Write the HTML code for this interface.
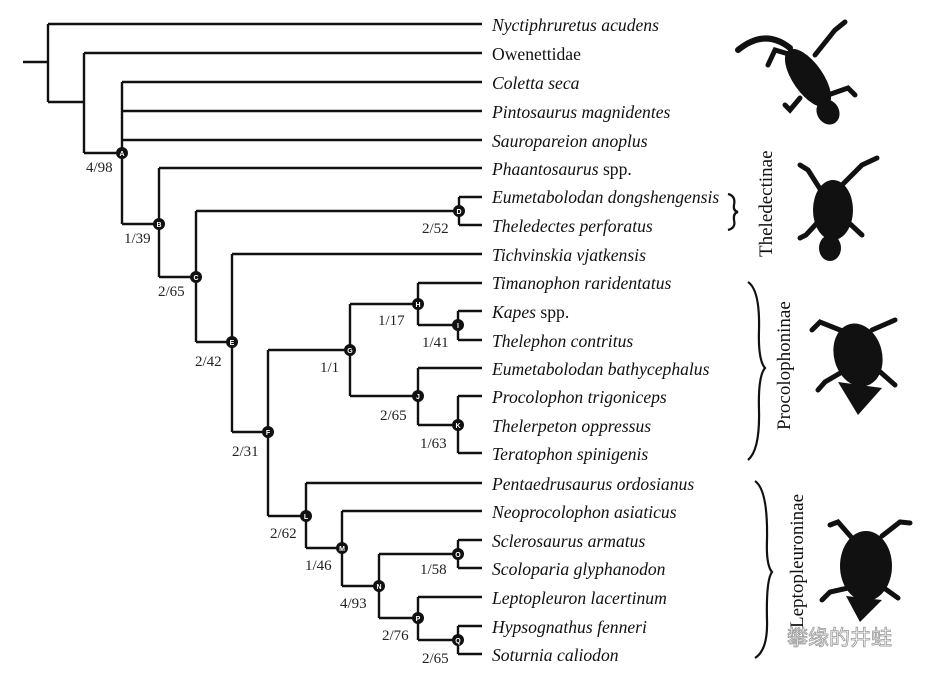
<!DOCTYPE html>
<html><head><meta charset="utf-8"><style>
body{margin:0;background:#fff;width:937px;height:677px;overflow:hidden}
svg{display:block}
.t{font-family:"Liberation Serif",serif;font-size:17.6px;font-style:italic;fill:#111}
.n{font-family:"Liberation Serif",serif;font-size:15px;fill:#222}
.c{font-family:"Liberation Sans",sans-serif;font-size:7px;font-weight:bold;fill:#fff;text-anchor:middle}
</style></head><body>
<svg width="937" height="677" viewBox="0 0 937 677">
<g stroke="#111" stroke-width="2.4" fill="none">
<path d="M23 62H48M48 24V102M48 24H482M48 102H84M84 53V153M84 53H482M84 153H122"/>
<path d="M122 82V224M122 82H482M122 111H482M122 140H482M122 224H159"/>
<path d="M159 168V277M159 168H482M159 277H196"/>
<path d="M196 211V342M196 211H459M459 197V225M459 197H482M459 225H482M196 342H232"/>
<path d="M232 254V432M232 254H482M232 432H268"/>
<path d="M268 350V516M268 350H350M350 304V396M350 304H418M418 283V325M418 283H482M418 325H458M458 311V340M458 311H482M458 340H482"/>
<path d="M350 396H418M418 368V425M418 368H482M418 425H458M458 396V453M458 396H482M458 453H482"/>
<path d="M268 516H306M306 483V548M306 483H482M306 548H342M342 511V586M342 511H482M342 586H379"/>
<path d="M379 554V618M379 554H458M458 540V568M458 540H482M458 568H482M379 618H418M418 597V640M418 597H482M418 640H458M458 626V654M458 626H482M458 654H482"/>
</g>
<g fill="#111">
<circle cx="122" cy="153" r="6"/><circle cx="159" cy="224" r="6"/><circle cx="196" cy="277" r="6"/><circle cx="459" cy="211" r="6"/>
<circle cx="232" cy="342" r="6"/><circle cx="268" cy="432" r="6"/><circle cx="350" cy="350" r="6"/><circle cx="418" cy="304" r="6"/>
<circle cx="458" cy="325" r="6"/><circle cx="418" cy="396" r="6"/><circle cx="458" cy="425" r="6"/><circle cx="306" cy="516" r="6"/>
<circle cx="342" cy="548" r="6"/><circle cx="379" cy="586" r="6"/><circle cx="458" cy="554" r="6"/><circle cx="418" cy="618" r="6"/><circle cx="458" cy="640" r="6"/>
</g>
<g class="c">
<text x="122" y="156">A</text><text x="159" y="227">B</text><text x="196" y="280">C</text><text x="459" y="214">D</text>
<text x="232" y="345">E</text><text x="268" y="435">F</text><text x="350" y="353">G</text><text x="418" y="307">H</text>
<text x="458" y="328">I</text><text x="418" y="399">J</text><text x="458" y="428">K</text><text x="306" y="519">L</text>
<text x="342" y="551">M</text><text x="379" y="589">N</text><text x="458" y="557">O</text><text x="418" y="621">P</text><text x="458" y="643">Q</text>
</g>
<g class="n">
<text x="86" y="172">4/98</text><text x="124" y="243">1/39</text><text x="158" y="296">2/65</text><text x="422" y="233">2/52</text>
<text x="195" y="366">2/42</text><text x="232" y="456">2/31</text><text x="320" y="372">1/1</text><text x="378" y="325">1/17</text>
<text x="422" y="347">1/41</text><text x="380" y="420">2/65</text><text x="420" y="448">1/63</text><text x="270" y="538">2/62</text>
<text x="305" y="570">1/46</text><text x="340" y="608">4/93</text><text x="420" y="574">1/58</text><text x="382" y="640">2/76</text><text x="422" y="663">2/65</text>
</g>
<g class="t">
<text x="492" y="31">Nyctiphruretus acudens</text>
<text x="492" y="60" font-style="normal">Owenettidae</text>
<text x="492" y="89">Coletta seca</text>
<text x="492" y="118">Pintosaurus magnidentes</text>
<text x="492" y="147">Sauropareion anoplus</text>
<text x="492" y="175">Phaantosaurus <tspan font-style="normal">spp.</tspan></text>
<text x="492" y="203">Eumetabolodan dongshengensis</text>
<text x="492" y="232">Theledectes perforatus</text>
<text x="492" y="261">Tichvinskia vjatkensis</text>
<text x="492" y="289">Timanophon raridentatus</text>
<text x="492" y="318">Kapes <tspan font-style="normal">spp.</tspan></text>
<text x="492" y="347">Thelephon contritus</text>
<text x="492" y="375">Eumetabolodan bathycephalus</text>
<text x="492" y="403">Procolophon trigoniceps</text>
<text x="492" y="432">Thelerpeton oppressus</text>
<text x="492" y="460">Teratophon spinigenis</text>
<text x="492" y="490">Pentaedrusaurus ordosianus</text>
<text x="492" y="518">Neoprocolophon asiaticus</text>
<text x="492" y="547">Sclerosaurus armatus</text>
<text x="492" y="575">Scoloparia glyphanodon</text>
<text x="492" y="604">Leptopleuron lacertinum</text>
<text x="492" y="633">Hypsognathus fenneri</text>
<text x="492" y="661">Soturnia caliodon</text>
</g>
<g fill="none" stroke="#111" stroke-width="2.2">
<path d="M728 194Q736 196 734 205Q733 211 738 212Q733 213 734 220Q736 228 728 230"/>
<path d="M748 282Q760 290 759 330Q758 360 765 368Q758 376 759 410Q760 450 748 460"/>
<path d="M755 481Q768 490 767 540Q766 565 772 572Q766 580 767 620Q768 650 755 658"/>
</g>
<g font-family="Liberation Serif,serif" font-size="19" fill="#111">
<text transform="translate(772 257) rotate(-90)">Theledectinae</text>
<text transform="translate(790 430) rotate(-90)">Procolophoninae</text>
<text transform="translate(803 628) rotate(-90)">Leptopleuroninae</text>
</g>
<g fill="#111" stroke="#111" stroke-linecap="round">
<ellipse cx="808" cy="78" rx="15" ry="34" transform="rotate(-35 808 78)" stroke="none"/>
<path d="M790 48Q765 28 738 50" stroke-width="6" fill="none"/>
<path d="M792 55L775 50L768 65M815 55L835 30L845 22M800 98L790 110L785 105M828 95L848 88L855 95" stroke-width="5" fill="none"/>
<ellipse cx="828" cy="112" rx="11" ry="13" transform="rotate(-30 828 112)" stroke="none"/>
<ellipse cx="833" cy="210" rx="20" ry="30" stroke="none"/>
<path d="M842 185L862 165L877 158M822 192L808 170L800 165M818 222L806 235L800 238M848 222L862 235" stroke-width="5" fill="none"/>
<ellipse cx="830" cy="248" rx="11" ry="13" stroke="none"/>
<ellipse cx="858" cy="355" rx="24" ry="32" transform="rotate(-15 858 355)" stroke="none"/>
<path d="M845 332L820 322L812 330M872 330L895 320M842 372L825 382L818 390M878 370L895 385" stroke-width="5" fill="none"/>
<path d="M838 382L858 415L882 388Z" stroke="none"/>
<ellipse cx="866" cy="566" rx="26" ry="35" stroke="none"/>
<path d="M852 538L838 522L830 525M882 536L900 522L910 523M848 588L830 592L822 600M884 588L898 598" stroke-width="5" fill="none"/>
<path d="M846 596L860 622L882 600Z" stroke="none"/>
</g>
<text x="787" y="645" font-family="WenQuanYi Zen Hei,sans-serif" font-size="21" fill="#fff" stroke="#999" stroke-width="0.8">攀缘的井蛙</text>
</svg>
</body></html>
